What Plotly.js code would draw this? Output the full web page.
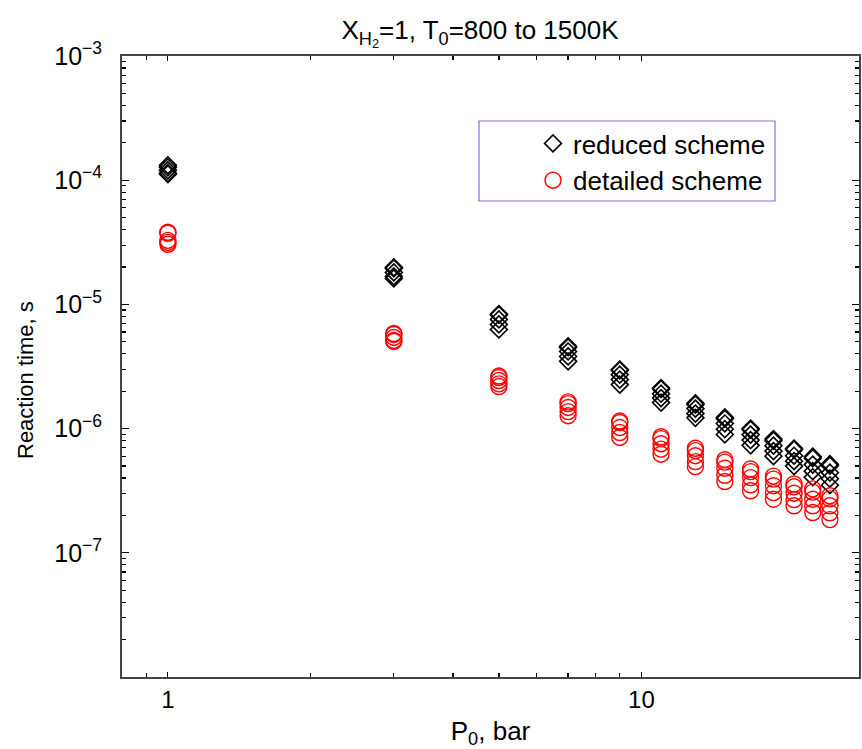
<!DOCTYPE html>
<html>
<head>
<meta charset="utf-8">
<script src="https://cdn.plot.ly/plotly-3.0.1.min.js"></script>
<style>html,body{margin:0;padding:0;background:#fff;}</style>
</head>
<body>
<div id="chart" style="width:862px;height:749px;"></div>
<script>
// Initial pressures, bar
const pressures = [1, 3, 5, 7, 9, 11, 13, 15, 17, 19, 21, 23, 25];
// Reaction times (s), several initial temperatures per pressure
const reducedScheme = [
  [1.32e-4, 1.27e-4, 1.20e-4, 1.14e-4, 1.12e-4],
  [1.99e-5, 1.95e-5, 1.81e-5, 1.68e-5, 1.62e-5],
  [8.37e-6, 8.22e-6, 7.57e-6, 6.90e-6, 6.28e-6],
  [4.60e-6, 4.50e-6, 4.18e-6, 3.81e-6, 3.48e-6],
  [2.99e-6, 2.94e-6, 2.72e-6, 2.48e-6, 2.26e-6],
  [2.12e-6, 2.08e-6, 1.91e-6, 1.76e-6, 1.62e-6],
  [1.60e-6, 1.56e-6, 1.45e-6, 1.32e-6, 1.22e-6],
  [1.23e-6, 1.20e-6, 1.10e-6, 9.90e-7, 8.97e-7],
  [1.00e-6, 9.81e-7, 8.95e-7, 8.08e-7, 7.33e-7],
  [8.23e-7, 8.00e-7, 7.29e-7, 6.59e-7, 6.00e-7],
  [6.92e-7, 6.77e-7, 6.05e-7, 5.47e-7, 4.99e-7],
  [5.94e-7, 5.78e-7, 5.13e-7, 4.54e-7, 4.06e-7],
  [5.17e-7, 5.03e-7, 4.42e-7, 3.95e-7, 3.50e-7]
];
const detailedScheme = [
  [3.81e-5, 3.74e-5, 3.28e-5, 3.16e-5, 3.05e-5],
  [5.83e-6, 5.73e-6, 5.42e-6, 5.13e-6, 5.03e-6],
  [2.65e-6, 2.58e-6, 2.44e-6, 2.29e-6, 2.18e-6],
  [1.64e-6, 1.59e-6, 1.48e-6, 1.37e-6, 1.27e-6],
  [1.15e-6, 1.12e-6, 1.02e-6, 9.29e-7, 8.49e-7],
  [8.60e-7, 8.30e-7, 7.56e-7, 6.84e-7, 6.22e-7],
  [6.95e-7, 6.65e-7, 6.05e-7, 5.42e-7, 4.94e-7],
  [5.62e-7, 5.37e-7, 4.80e-7, 4.21e-7, 3.75e-7],
  [4.73e-7, 4.50e-7, 4.03e-7, 3.53e-7, 3.16e-7],
  [4.14e-7, 3.92e-7, 3.47e-7, 3.05e-7, 2.70e-7],
  [3.58e-7, 3.40e-7, 3.02e-7, 2.68e-7, 2.39e-7],
  [3.27e-7, 3.08e-7, 2.70e-7, 2.39e-7, 2.11e-7],
  [2.88e-7, 2.72e-7, 2.39e-7, 2.10e-7, 1.85e-7]
];
const seriesNames = ['reduced scheme', 'detailed scheme'];
const xTickVals = [1, 10];
const xTickText = ['1', '10'];
const yTickVals = [1e-8, 1e-7, 1e-6, 1e-5, 1e-4, 1e-3];
const yTickText = ['', '10<sup>\u22127</sup>', '10<sup>\u22126</sup>', '10<sup>\u22125</sup>', '10<sup>\u22124</sup>', '10<sup>\u22123</sup>'];

function flatten(groups) {
  const xs = [], ys = [];
  groups.forEach((vals, i) => vals.forEach(v => { xs.push(pressures[i]); ys.push(v); }));
  return {xs, ys};
}
const r = flatten(reducedScheme);
const d = flatten(detailedScheme);

const reg = '"Liberation Sans", Arial, sans-serif';

const traces = [
  {x: r.xs, y: r.ys, type: 'scatter', mode: 'markers', name: seriesNames[0],
   marker: {symbol: 'diamond-open', size: 13, color: '#000', line: {width: 1.6, color: '#000'}}},
  {x: d.xs, y: d.ys, type: 'scatter', mode: 'markers', name: seriesNames[1],
   marker: {symbol: 'circle-open', size: 16, color: '#ff0000', line: {width: 1.4, color: '#ff0000'}}}
];

const minorX = [0.9, 2, 3, 4, 5, 6, 7, 8, 9];
const minorY = [];
for (let e = -8; e < -3; e++) for (let k = 2; k <= 9; k++) minorY.push(k * Math.pow(10, e));

const layout = {
  width: 862, height: 749,
  margin: {l: 122, r: 3, t: 56, b: 72},
  paper_bgcolor: '#fff', plot_bgcolor: '#fff',
  showlegend: true,
  title: {text: 'X<sub>H<sub>2</sub></sub>=1, T<sub>0</sub>=800 to 1500K', font: {family: reg, size: 26, color: '#000'},
          x: 480/862, xref: 'container', xanchor: 'center', y: 1 - 30/749, yref: 'container', yanchor: 'middle'},
  xaxis: {
    type: 'log', range: [Math.log10(0.8), Math.log10(28.8)],
    tickmode: 'array', tickvals: xTickVals, ticktext: xTickText,
    ticks: 'inside', ticklen: 5, tickwidth: 1.2, tickcolor: '#000',
    showline: true, linecolor: '#444', linewidth: 2, mirror: 'ticks',
    showgrid: false, zeroline: false,
    tickfont: {family: reg, size: 24, color: '#000'},
    minor: {tickmode: 'array', tickvals: minorX, ticks: 'inside', ticklen: 4, tickwidth: 1.2, tickcolor: '#000', showgrid: false},
    title: {text: 'P<sub>0</sub>, bar', font: {family: reg, size: 26, color: '#000'}, standoff: 16}
  },
  yaxis: {
    type: 'log', range: [-8, -3],
    tickmode: 'array', tickvals: yTickVals, ticktext: yTickText,
    ticks: 'inside', ticklen: 7, tickwidth: 1.2, tickcolor: '#000',
    showline: true, linecolor: '#444', linewidth: 2, mirror: 'ticks',
    showgrid: false, zeroline: false,
    tickfont: {family: reg, size: 25, color: '#000'},
    ticklabelstandoff: 13,
    minor: {tickmode: 'array', tickvals: minorY, ticks: 'inside', ticklen: 4, tickwidth: 1.2, tickcolor: '#000', showgrid: false},
    title: {text: ''}
  },
  annotations: [{text: 'Reaction time, s', textangle: -90, xref: 'paper', yref: 'paper',
                 x: (25-122)/737, y: (677-380)/621, xanchor: 'center', yanchor: 'middle', showarrow: false,
                 font: {family: reg, size: 22, color: '#000'}}],
  legend: {x: (533-122)/737, xanchor: 'left', y: (677-120)/621, yanchor: 'top',
           bgcolor: 'rgba(0,0,0,0)', borderwidth: 0,
           font: {family: reg, size: 26, color: '#000'}, tracegroupgap: 0},
  shapes: [{type: 'rect', xref: 'paper', yref: 'paper',
            x0: (479-122)/737, x1: (775-122)/737, y0: (677-201)/621, y1: (677-121)/621,
            line: {color: '#9966dd', width: 1.2}, fillcolor: 'rgba(0,0,0,0)', layer: 'below'}]
};

Plotly.newPlot('chart', traces, layout, {displayModeBar: false, staticPlot: true});
</script>
</body>
</html>
